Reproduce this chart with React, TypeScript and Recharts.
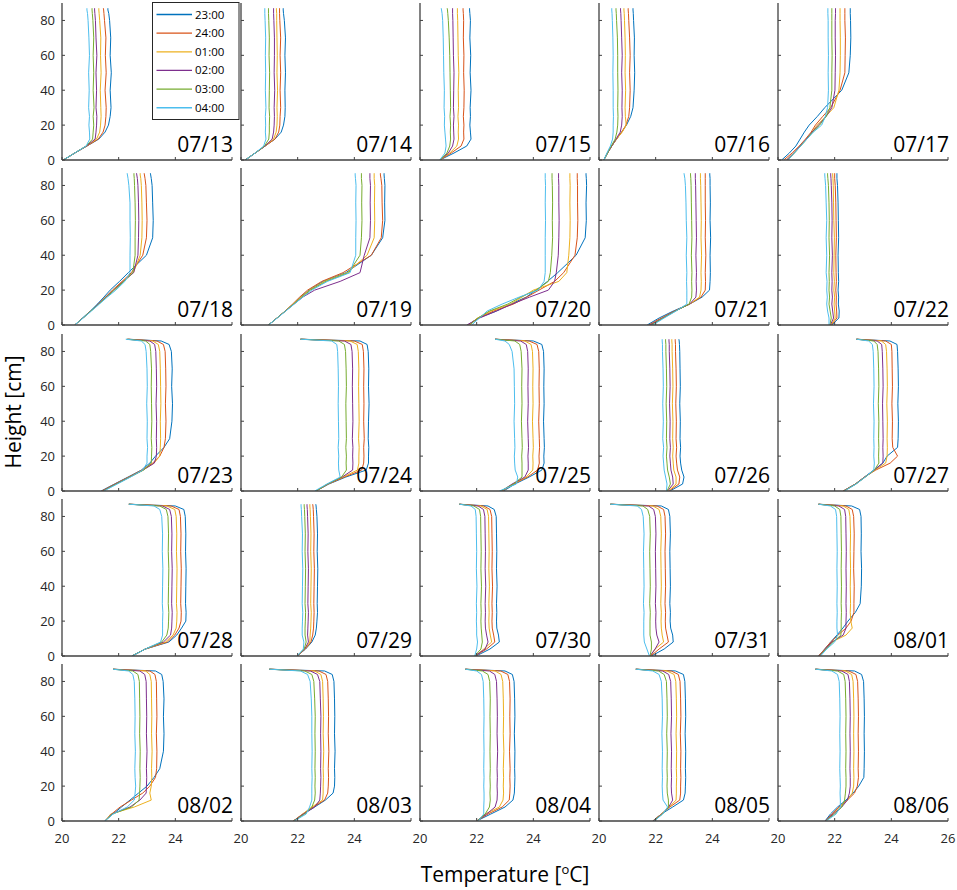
import React from 'react';
import { LineChart, Line, XAxis, YAxis } from 'recharts';

// sampled heights (cm) shared by every profile
const heights = [0, 4, 8, 12, 16, 20, 25, 30, 40, 50, 60, 70, 80, 84, 86, 87];
const times = ['23:00', '24:00', '01:00', '02:00', '03:00', '04:00'];
const colors = ['#0072BD', '#D95319', '#EDB120', '#7E2F8E', '#77AC30', '#4DBEEE'];
const dates = [
  '07/13', '07/14', '07/15', '07/16', '07/17',
  '07/18', '07/19', '07/20', '07/21', '07/22',
  '07/23', '07/24', '07/25', '07/26', '07/27',
  '07/28', '07/29', '07/30', '07/31', '08/01',
  '08/02', '08/03', '08/04', '08/05', '08/06',
];
const tempTicks = [20, 22, 24, 26];
const heightTicks = [0, 20, 40, 60, 80];

// temperature (°C) per height, one row per hour: 23,24,01,02,03,04
const d0713 = [
  [20.05, 20.45, 20.88, 21.3, 21.52, 21.64, 21.7, 21.73, 21.7, 21.74, 21.7, 21.72, 21.68, 21.65, 21.62, 21.62],
  [20.05, 20.45, 20.88, 21.28, 21.45, 21.52, 21.55, 21.56, 21.52, 21.56, 21.53, 21.55, 21.5, 21.48, 21.47, 21.46],
  [20.05, 20.45, 20.86, 21.22, 21.33, 21.36, 21.38, 21.37, 21.35, 21.38, 21.36, 21.37, 21.33, 21.31, 21.3, 21.3],
  [20.05, 20.45, 20.86, 21.17, 21.2, 21.22, 21.23, 21.2, 21.22, 21.2, 21.23, 21.2, 21.18, 21.16, 21.15, 21.15],
  [20.05, 20.45, 20.85, 21.08, 21.1, 21.12, 21.1, 21.13, 21.1, 21.12, 21.1, 21.12, 21.09, 21.07, 21.06, 21.06],
  [20.05, 20.45, 20.85, 20.98, 20.97, 20.95, 20.97, 20.94, 20.96, 20.94, 20.97, 20.95, 20.92, 20.9, 20.88, 20.88],
];
const d0714 = [
  [20.15, 20.5, 20.85, 21.2, 21.42, 21.5, 21.55, 21.56, 21.55, 21.57, 21.55, 21.57, 21.53, 21.5, 21.49, 21.49],
  [20.15, 20.5, 20.85, 21.2, 21.33, 21.37, 21.38, 21.4, 21.38, 21.4, 21.38, 21.4, 21.37, 21.36, 21.36, 21.36],
  [20.15, 20.5, 20.85, 21.15, 21.24, 21.27, 21.28, 21.27, 21.29, 21.27, 21.28, 21.27, 21.26, 21.26, 21.25, 21.25],
  [20.15, 20.5, 20.85, 21.1, 21.15, 21.17, 21.18, 21.17, 21.19, 21.17, 21.18, 21.18, 21.16, 21.15, 21.15, 21.15],
  [20.15, 20.5, 20.83, 20.98, 21.0, 21.0, 21.01, 20.99, 21.0, 21.01, 20.99, 21.0, 20.98, 20.97, 20.97, 20.97],
  [20.15, 20.5, 20.8, 20.88, 20.86, 20.87, 20.86, 20.88, 20.86, 20.87, 20.86, 20.87, 20.85, 20.84, 20.84, 20.84],
];
const d0715 = [
  [20.7, 21.2, 21.65, 21.8, 21.78, 21.76, 21.78, 21.77, 21.8, 21.77, 21.79, 21.76, 21.78, 21.76, 21.75, 21.75],
  [20.7, 21.1, 21.45, 21.55, 21.54, 21.55, 21.53, 21.55, 21.56, 21.54, 21.55, 21.53, 21.54, 21.53, 21.52, 21.52],
  [20.7, 21.05, 21.3, 21.36, 21.35, 21.36, 21.34, 21.36, 21.35, 21.37, 21.35, 21.34, 21.33, 21.32, 21.32, 21.32],
  [20.7, 21.0, 21.15, 21.2, 21.19, 21.18, 21.2, 21.18, 21.19, 21.2, 21.18, 21.17, 21.16, 21.15, 21.15, 21.15],
  [20.7, 20.95, 21.05, 21.08, 21.07, 21.08, 21.06, 21.08, 21.07, 21.06, 21.05, 21.03, 21.0, 20.98, 20.97, 20.96],
  [20.7, 20.88, 20.92, 20.9, 20.88, 20.86, 20.87, 20.85, 20.86, 20.84, 20.83, 20.82, 20.8, 20.78, 20.76, 20.75],
];
const d0716 = [
  [20.17, 20.3, 20.45, 20.62, 20.8, 20.97, 21.12, 21.2, 21.24, 21.26, 21.24, 21.25, 21.22, 21.21, 21.2, 21.2],
  [20.17, 20.3, 20.45, 20.62, 20.8, 20.95, 21.05, 21.08, 21.1, 21.08, 21.1, 21.08, 21.05, 21.04, 21.03, 21.03],
  [20.17, 20.3, 20.45, 20.62, 20.82, 20.96, 20.93, 20.92, 20.94, 20.92, 20.93, 20.92, 20.9, 20.89, 20.88, 20.88],
  [20.17, 20.3, 20.45, 20.6, 20.75, 20.8, 20.82, 20.81, 20.82, 20.8, 20.82, 20.8, 20.78, 20.77, 20.76, 20.76],
  [20.17, 20.3, 20.43, 20.57, 20.63, 20.66, 20.67, 20.66, 20.67, 20.66, 20.66, 20.65, 20.62, 20.61, 20.6, 20.6],
  [20.17, 20.28, 20.4, 20.48, 20.5, 20.5, 20.51, 20.5, 20.5, 20.49, 20.5, 20.49, 20.47, 20.46, 20.45, 20.45],
];
const d0717 = [
  [20.13, 20.4, 20.63, 20.78, 20.93, 21.1, 21.39, 21.65, 22.25, 22.5, 22.55, 22.57, 22.56, 22.55, 22.55, 22.55],
  [20.2, 20.5, 20.75, 20.97, 21.17, 21.32, 21.58, 21.86, 22.19, 22.36, 22.37, 22.38, 22.36, 22.36, 22.36, 22.36],
  [20.3, 20.56, 20.78, 21.0, 21.2, 21.38, 21.69, 21.97, 22.15, 22.19, 22.2, 22.2, 22.19, 22.19, 22.19, 22.19],
  [20.3, 20.56, 20.78, 21.0, 21.2, 21.43, 21.7, 21.9, 22.01, 22.02, 22.03, 22.02, 22.02, 22.03, 22.03, 22.03],
  [20.35, 20.58, 20.8, 21.02, 21.22, 21.47, 21.7, 21.83, 21.9, 21.9, 21.91, 21.9, 21.9, 21.9, 21.9, 21.9],
  [20.35, 20.58, 20.8, 21.02, 21.25, 21.54, 21.67, 21.75, 21.78, 21.77, 21.78, 21.77, 21.77, 21.76, 21.76, 21.76],
];
const d0718 = [
  [20.45, 20.72, 21.0, 21.25, 21.48, 21.7, 22.03, 22.34, 22.98, 23.2, 23.22, 23.2, 23.18, 23.15, 23.13, 23.12],
  [20.45, 20.74, 21.02, 21.28, 21.54, 21.78, 22.12, 22.45, 22.85, 22.98, 23.0, 22.98, 22.96, 22.93, 22.91, 22.9],
  [20.45, 20.74, 21.02, 21.28, 21.54, 21.8, 22.15, 22.52, 22.76, 22.82, 22.83, 22.82, 22.8, 22.78, 22.76, 22.76],
  [20.45, 20.74, 21.02, 21.28, 21.55, 21.82, 22.16, 22.53, 22.68, 22.7, 22.71, 22.7, 22.68, 22.66, 22.64, 22.63],
  [20.45, 20.74, 21.02, 21.3, 21.57, 21.85, 22.18, 22.5, 22.58, 22.58, 22.59, 22.58, 22.56, 22.55, 22.54, 22.54],
  [20.45, 20.75, 21.04, 21.32, 21.6, 21.9, 22.22, 22.4, 22.4, 22.41, 22.4, 22.4, 22.36, 22.33, 22.31, 22.3],
];
const d0719 = [
  [20.97, 21.27, 21.56, 21.84, 22.1, 22.4, 22.9, 23.7, 24.6, 25.0, 25.08, 25.07, 25.08, 25.06, 25.05, 25.05],
  [20.97, 21.27, 21.56, 21.82, 22.07, 22.35, 22.85, 23.6, 24.6, 24.95, 25.0, 24.98, 24.97, 24.94, 24.92, 24.92],
  [20.97, 21.27, 21.56, 21.84, 22.12, 22.42, 22.95, 23.75, 24.45, 24.7, 24.72, 24.71, 24.72, 24.7, 24.7, 24.7],
  [20.97, 21.27, 21.57, 21.87, 22.18, 22.6, 23.5, 24.2, 24.35, 24.55, 24.57, 24.56, 24.57, 24.55, 24.55, 24.55],
  [20.97, 21.27, 21.57, 21.86, 22.15, 22.45, 23.0, 23.8, 24.2, 24.25, 24.27, 24.26, 24.27, 24.25, 24.25, 24.25],
  [20.97, 21.28, 21.58, 21.88, 22.18, 22.5, 23.05, 23.85, 24.05, 24.05, 24.06, 24.05, 24.06, 24.04, 24.03, 24.03],
];
const d0720 = [
  [21.7, 22.05, 22.7, 23.2, 23.75, 24.1, 24.5, 24.86, 25.51, 25.83, 25.87, 25.86, 25.88, 25.87, 25.86, 25.86],
  [21.7, 22.05, 22.6, 23.3, 23.77, 24.2, 24.75, 25.07, 25.47, 25.55, 25.57, 25.56, 25.56, 25.55, 25.55, 25.55],
  [21.72, 22.03, 22.5, 23.2, 23.6, 24.0, 24.9, 25.18, 25.25, 25.29, 25.3, 25.29, 25.3, 25.29, 25.29, 25.29],
  [21.65, 22.1, 22.7, 23.25, 23.87, 24.53, 24.75, 24.81, 24.88, 24.9, 24.91, 24.9, 24.9, 24.89, 24.89, 24.89],
  [21.75, 22.05, 22.45, 23.1, 23.55, 24.1, 24.53, 24.6, 24.65, 24.68, 24.67, 24.68, 24.67, 24.66, 24.66, 24.66],
  [21.82, 22.1, 22.37, 22.9, 23.5, 24.17, 24.38, 24.42, 24.42, 24.42, 24.43, 24.42, 24.43, 24.42, 24.42, 24.42],
];
const d0721 = [
  [21.7, 22.12, 22.62, 23.2, 23.64, 23.9, 23.92, 23.93, 23.92, 23.94, 23.92, 23.93, 23.92, 23.92, 23.91, 23.91],
  [21.75, 22.2, 22.66, 23.2, 23.6, 23.75, 23.76, 23.75, 23.77, 23.75, 23.76, 23.75, 23.75, 23.75, 23.75, 23.75],
  [21.8, 22.25, 22.68, 23.2, 23.55, 23.6, 23.61, 23.6, 23.62, 23.6, 23.61, 23.6, 23.59, 23.58, 23.58, 23.58],
  [21.8, 22.25, 22.68, 23.2, 23.42, 23.44, 23.43, 23.44, 23.42, 23.44, 23.43, 23.42, 23.41, 23.4, 23.4, 23.4],
  [21.85, 22.27, 22.7, 23.18, 23.27, 23.28, 23.27, 23.28, 23.26, 23.28, 23.27, 23.26, 23.25, 23.24, 23.23, 23.23],
  [21.9, 22.3, 22.72, 23.1, 23.1, 23.1, 23.09, 23.1, 23.08, 23.1, 23.08, 23.07, 23.05, 23.03, 23.01, 23.0],
];
const d0722 = [
  [21.9, 22.15, 22.16, 22.13, 22.14, 22.12, 22.14, 22.13, 22.12, 22.14, 22.13, 22.12, 22.1, 22.08, 22.08, 22.08],
  [21.88, 22.08, 22.07, 22.05, 22.06, 22.04, 22.06, 22.05, 22.04, 22.06, 22.05, 22.04, 22.02, 22.0, 22.0, 22.0],
  [21.87, 22.02, 22.0, 21.98, 22.0, 21.97, 21.99, 21.97, 21.98, 21.99, 21.97, 21.96, 21.95, 21.94, 21.93, 21.93],
  [21.85, 21.96, 21.93, 21.9, 21.92, 21.9, 21.91, 21.9, 21.92, 21.9, 21.91, 21.9, 21.88, 21.87, 21.86, 21.86],
  [21.83, 21.88, 21.84, 21.8, 21.82, 21.8, 21.81, 21.8, 21.82, 21.8, 21.81, 21.8, 21.78, 21.76, 21.75, 21.75],
  [21.8, 21.8, 21.75, 21.72, 21.74, 21.72, 21.73, 21.7, 21.72, 21.7, 21.72, 21.7, 21.68, 21.66, 21.65, 21.65],
];
const d0723 = [
  [21.38, 21.85, 22.33, 22.8, 23.1, 23.3, 23.6, 23.8, 23.88, 23.9, 23.87, 23.89, 23.86, 23.78, 23.5, 22.35],
  [21.4, 21.87, 22.35, 22.82, 23.2, 23.45, 23.6, 23.65, 23.67, 23.65, 23.67, 23.66, 23.64, 23.58, 23.35, 22.33],
  [21.42, 21.9, 22.37, 22.85, 23.25, 23.45, 23.47, 23.48, 23.47, 23.49, 23.48, 23.47, 23.45, 23.4, 23.2, 22.3],
  [21.42, 21.9, 22.38, 22.86, 23.26, 23.33, 23.34, 23.33, 23.34, 23.32, 23.34, 23.33, 23.31, 23.27, 23.1, 22.3],
  [21.45, 21.92, 22.4, 22.88, 23.15, 23.16, 23.17, 23.15, 23.17, 23.16, 23.15, 23.16, 23.13, 23.1, 22.95, 22.28],
  [21.48, 21.95, 22.42, 22.85, 23.0, 23.0, 23.02, 23.0, 23.01, 22.99, 23.01, 23.0, 22.97, 22.93, 22.8, 22.25],
];
const d0724 = [
  [22.65, 23.1, 23.7, 24.42, 24.5, 24.5, 24.51, 24.49, 24.5, 24.52, 24.5, 24.51, 24.49, 24.45, 24.2, 22.1],
  [22.65, 23.08, 23.65, 24.26, 24.33, 24.34, 24.33, 24.35, 24.33, 24.34, 24.33, 24.34, 24.32, 24.28, 24.0, 22.1],
  [22.65, 23.07, 23.6, 24.11, 24.16, 24.16, 24.17, 24.15, 24.17, 24.16, 24.15, 24.16, 24.14, 24.1, 23.85, 22.1],
  [22.65, 23.06, 23.57, 23.94, 23.95, 23.94, 23.95, 23.93, 23.95, 23.94, 23.93, 23.94, 23.92, 23.88, 23.65, 22.1],
  [22.65, 23.05, 23.55, 23.72, 23.71, 23.72, 23.7, 23.72, 23.71, 23.7, 23.72, 23.71, 23.69, 23.65, 23.45, 22.1],
  [22.6, 23.03, 23.5, 23.45, 23.44, 23.45, 23.43, 23.45, 23.44, 23.43, 23.44, 23.43, 23.41, 23.38, 23.2, 22.1],
];
const d0725 = [
  [22.95, 23.35, 23.85, 24.3, 24.38, 24.37, 24.39, 24.38, 24.36, 24.38, 24.37, 24.38, 24.36, 24.3, 24.0, 22.65],
  [22.92, 23.3, 23.8, 24.15, 24.21, 24.2, 24.22, 24.21, 24.19, 24.21, 24.2, 24.21, 24.19, 24.13, 23.85, 22.65],
  [22.9, 23.28, 23.75, 23.98, 23.99, 23.98, 24.0, 23.99, 23.97, 23.99, 23.98, 23.99, 23.97, 23.92, 23.7, 22.65],
  [22.88, 23.25, 23.7, 23.82, 23.82, 23.81, 23.83, 23.82, 23.8, 23.82, 23.81, 23.82, 23.8, 23.75, 23.55, 22.65],
  [22.85, 23.3, 23.6, 23.6, 23.6, 23.59, 23.61, 23.6, 23.58, 23.6, 23.59, 23.6, 23.57, 23.52, 23.35, 22.65],
  [22.8, 23.4, 23.45, 23.36, 23.34, 23.33, 23.35, 23.34, 23.32, 23.34, 23.33, 23.32, 23.25, 23.15, 23.0, 22.65],
];
const d0726 = [
  [22.5, 22.95, 23.0, 22.92, 22.88, 22.86, 22.88, 22.86, 22.87, 22.85, 22.87, 22.86, 22.85, 22.84, 22.83, 22.82],
  [22.47, 22.82, 22.85, 22.77, 22.74, 22.72, 22.74, 22.72, 22.73, 22.71, 22.73, 22.72, 22.7, 22.7, 22.69, 22.69],
  [22.45, 22.72, 22.72, 22.64, 22.62, 22.6, 22.62, 22.6, 22.61, 22.59, 22.61, 22.6, 22.58, 22.58, 22.57, 22.57],
  [22.42, 22.62, 22.6, 22.54, 22.52, 22.5, 22.52, 22.5, 22.51, 22.49, 22.51, 22.5, 22.48, 22.48, 22.47, 22.47],
  [22.4, 22.52, 22.48, 22.42, 22.4, 22.38, 22.4, 22.38, 22.39, 22.37, 22.39, 22.38, 22.36, 22.36, 22.35, 22.35],
  [22.38, 22.4, 22.35, 22.3, 22.28, 22.26, 22.28, 22.25, 22.27, 22.25, 22.27, 22.26, 22.24, 22.24, 22.23, 22.23],
];
const d0727 = [
  [22.3, 22.73, 23.05, 23.38, 23.7, 23.85, 24.22, 24.24, 24.25, 24.23, 24.25, 24.24, 24.22, 24.2, 23.95, 22.77],
  [22.3, 22.73, 23.05, 23.45, 23.96, 24.22, 24.05, 24.03, 24.04, 24.02, 24.04, 24.03, 24.02, 24.0, 23.8, 22.77],
  [22.32, 22.74, 23.07, 23.42, 23.8, 23.85, 23.86, 23.85, 23.86, 23.84, 23.86, 23.85, 23.83, 23.8, 23.65, 22.77],
  [22.32, 22.74, 23.07, 23.4, 23.7, 23.71, 23.7, 23.71, 23.7, 23.69, 23.71, 23.7, 23.68, 23.66, 23.5, 22.77],
  [22.33, 22.75, 23.08, 23.4, 23.56, 23.55, 23.56, 23.55, 23.56, 23.54, 23.56, 23.55, 23.53, 23.5, 23.38, 22.77],
  [22.35, 22.76, 23.08, 23.38, 23.4, 23.38, 23.39, 23.38, 23.39, 23.37, 23.39, 23.38, 23.36, 23.33, 23.2, 22.77],
];
const d0728 = [
  [22.47, 22.94, 23.77, 24.05, 24.22, 24.37, 24.38, 24.36, 24.37, 24.38, 24.36, 24.37, 24.35, 24.3, 24.0, 22.36],
  [22.47, 22.94, 23.72, 23.98, 24.13, 24.2, 24.21, 24.19, 24.2, 24.21, 24.19, 24.2, 24.18, 24.13, 23.85, 22.36],
  [22.47, 22.94, 23.65, 23.92, 24.03, 24.05, 24.06, 24.04, 24.05, 24.06, 24.04, 24.05, 24.03, 23.98, 23.7, 22.36],
  [22.47, 22.94, 23.58, 23.83, 23.87, 23.88, 23.89, 23.87, 23.88, 23.89, 23.87, 23.88, 23.86, 23.8, 23.55, 22.36],
  [22.47, 22.94, 23.52, 23.7, 23.75, 23.76, 23.77, 23.75, 23.76, 23.77, 23.75, 23.76, 23.74, 23.68, 23.45, 22.36],
  [22.47, 22.94, 23.48, 23.55, 23.55, 23.55, 23.56, 23.54, 23.55, 23.56, 23.54, 23.55, 23.52, 23.45, 23.25, 22.36],
];
const d0729 = [
  [21.98, 22.28, 22.5, 22.62, 22.66, 22.68, 22.7, 22.69, 22.7, 22.71, 22.69, 22.7, 22.68, 22.66, 22.65, 22.64],
  [21.98, 22.27, 22.47, 22.53, 22.56, 22.57, 22.58, 22.57, 22.58, 22.59, 22.57, 22.58, 22.56, 22.55, 22.54, 22.53],
  [21.98, 22.26, 22.43, 22.44, 22.46, 22.47, 22.48, 22.46, 22.47, 22.48, 22.46, 22.47, 22.45, 22.44, 22.43, 22.43],
  [21.98, 22.25, 22.38, 22.35, 22.36, 22.37, 22.38, 22.36, 22.37, 22.38, 22.36, 22.37, 22.35, 22.34, 22.33, 22.33],
  [21.98, 22.23, 22.3, 22.26, 22.26, 22.27, 22.28, 22.26, 22.27, 22.28, 22.26, 22.27, 22.25, 22.24, 22.23, 22.23],
  [21.98, 22.2, 22.22, 22.16, 22.16, 22.17, 22.18, 22.16, 22.17, 22.18, 22.16, 22.17, 22.14, 22.13, 22.12, 22.12],
];
const d0730 = [
  [21.98, 22.47, 22.8, 22.77, 22.71, 22.7, 22.71, 22.7, 22.72, 22.7, 22.71, 22.7, 22.69, 22.62, 22.4, 21.39],
  [21.95, 22.35, 22.64, 22.6, 22.55, 22.54, 22.55, 22.54, 22.56, 22.54, 22.55, 22.54, 22.53, 22.47, 22.25, 21.39],
  [21.95, 22.25, 22.53, 22.48, 22.44, 22.43, 22.44, 22.43, 22.45, 22.43, 22.44, 22.43, 22.42, 22.37, 22.15, 21.39],
  [21.93, 22.3, 22.4, 22.35, 22.31, 22.3, 22.31, 22.3, 22.32, 22.3, 22.31, 22.3, 22.29, 22.24, 22.05, 21.39],
  [21.93, 22.15, 22.2, 22.18, 22.16, 22.15, 22.16, 22.15, 22.17, 22.15, 22.16, 22.15, 22.14, 22.1, 21.9, 21.39],
  [21.93, 22.0, 22.03, 22.0, 22.0, 21.99, 22.0, 21.99, 22.01, 21.99, 22.0, 21.99, 21.98, 21.95, 21.8, 21.39],
];
const d0731 = [
  [21.85, 22.3, 22.62, 22.6, 22.53, 22.51, 22.52, 22.5, 22.52, 22.51, 22.5, 22.52, 22.5, 22.45, 22.2, 20.4],
  [21.83, 22.12, 22.45, 22.4, 22.35, 22.34, 22.35, 22.33, 22.35, 22.34, 22.33, 22.35, 22.33, 22.28, 22.05, 20.4],
  [21.82, 21.98, 22.28, 22.23, 22.2, 22.19, 22.2, 22.18, 22.2, 22.19, 22.18, 22.2, 22.18, 22.12, 21.9, 20.4],
  [21.8, 21.98, 22.12, 22.04, 22.01, 22.0, 22.01, 21.99, 22.01, 22.0, 21.99, 22.01, 21.99, 21.93, 21.75, 20.4],
  [21.8, 21.85, 21.85, 21.8, 21.8, 21.8, 21.81, 21.79, 21.81, 21.8, 21.79, 21.81, 21.79, 21.72, 21.55, 20.4],
  [21.78, 21.69, 21.6, 21.58, 21.58, 21.58, 21.59, 21.57, 21.59, 21.58, 21.57, 21.59, 21.56, 21.5, 21.35, 20.4],
];
const d0801 = [
  [21.43, 21.65, 21.86, 22.08, 22.29, 22.47, 22.73, 22.9, 22.94, 22.95, 22.93, 22.94, 22.93, 22.88, 22.6, 21.43],
  [21.43, 21.65, 21.86, 22.12, 22.4, 22.58, 22.68, 22.68, 22.69, 22.67, 22.68, 22.69, 22.67, 22.62, 22.4, 21.43],
  [21.45, 21.67, 21.9, 22.4, 22.62, 22.57, 22.55, 22.56, 22.55, 22.56, 22.55, 22.56, 22.54, 22.5, 22.3, 21.43],
  [21.45, 21.67, 21.9, 22.3, 22.4, 22.4, 22.41, 22.4, 22.41, 22.4, 22.41, 22.4, 22.39, 22.35, 22.15, 21.43],
  [21.47, 21.7, 21.95, 22.22, 22.23, 22.23, 22.24, 22.23, 22.24, 22.23, 22.24, 22.23, 22.22, 22.18, 22.0, 21.43],
  [21.5, 21.72, 22.0, 22.1, 22.08, 22.08, 22.09, 22.08, 22.09, 22.08, 22.09, 22.08, 22.07, 22.03, 21.85, 21.43],
];
const d0802 = [
  [21.5, 21.8, 22.1, 22.4, 22.7, 23.0, 23.25, 23.45, 23.58, 23.6, 23.58, 23.6, 23.57, 23.52, 23.3, 21.8],
  [21.52, 21.75, 22.05, 22.45, 22.85, 23.1, 23.3, 23.34, 23.35, 23.33, 23.35, 23.34, 23.33, 23.28, 23.1, 21.8],
  [21.52, 21.72, 22.55, 23.15, 23.1, 23.15, 23.17, 23.16, 23.18, 23.16, 23.17, 23.16, 23.15, 23.1, 22.95, 21.8],
  [21.52, 21.75, 22.4, 22.75, 22.97, 22.98, 22.99, 22.98, 23.0, 22.98, 22.99, 22.98, 22.97, 22.92, 22.75, 21.8],
  [21.52, 21.78, 22.45, 22.72, 22.74, 22.75, 22.76, 22.75, 22.76, 22.74, 22.75, 22.74, 22.73, 22.68, 22.5, 21.8],
  [21.52, 21.8, 22.3, 22.55, 22.58, 22.6, 22.58, 22.57, 22.59, 22.57, 22.58, 22.57, 22.55, 22.5, 22.35, 21.8],
];
const d0803 = [
  [21.85, 22.2, 22.6, 22.98, 23.25, 23.3, 23.31, 23.3, 23.32, 23.3, 23.31, 23.3, 23.28, 23.22, 22.95, 21.0],
  [21.85, 22.18, 22.55, 22.95, 23.06, 23.08, 23.09, 23.08, 23.1, 23.08, 23.09, 23.08, 23.06, 23.0, 22.75, 21.0],
  [21.85, 22.17, 22.5, 22.88, 22.9, 22.9, 22.91, 22.9, 22.92, 22.9, 22.91, 22.9, 22.88, 22.82, 22.6, 21.0],
  [21.85, 22.2, 22.6, 22.78, 22.8, 22.81, 22.82, 22.81, 22.82, 22.81, 22.82, 22.8, 22.78, 22.7, 22.45, 21.0],
  [21.86, 22.25, 22.5, 22.6, 22.62, 22.61, 22.62, 22.61, 22.62, 22.61, 22.62, 22.6, 22.57, 22.5, 22.25, 21.0],
  [21.88, 22.3, 22.42, 22.5, 22.5, 22.5, 22.51, 22.5, 22.51, 22.5, 22.5, 22.48, 22.44, 22.35, 22.1, 21.0],
];
const d0804 = [
  [22.0, 22.5, 23.0, 23.28, 23.33, 23.34, 23.35, 23.34, 23.35, 23.33, 23.35, 23.34, 23.32, 23.26, 23.0, 21.6],
  [22.0, 22.4, 22.9, 23.15, 23.17, 23.18, 23.17, 23.18, 23.16, 23.18, 23.17, 23.18, 23.16, 23.1, 22.85, 21.6],
  [22.0, 22.3, 22.8, 22.93, 22.95, 22.94, 22.95, 22.94, 22.96, 22.94, 22.95, 22.94, 22.92, 22.86, 22.65, 21.6],
  [22.0, 22.35, 22.65, 22.72, 22.73, 22.72, 22.73, 22.72, 22.74, 22.72, 22.73, 22.72, 22.7, 22.64, 22.45, 21.6],
  [22.02, 22.3, 22.45, 22.48, 22.47, 22.48, 22.47, 22.48, 22.47, 22.48, 22.47, 22.48, 22.46, 22.4, 22.2, 21.6],
  [22.05, 22.25, 22.25, 22.26, 22.26, 22.25, 22.26, 22.25, 22.26, 22.25, 22.26, 22.25, 22.23, 22.17, 22.0, 21.6],
];
const d0805 = [
  [21.9, 22.2, 22.6, 22.98, 23.04, 23.05, 23.06, 23.05, 23.06, 23.04, 23.06, 23.05, 23.03, 22.98, 22.7, 21.3],
  [21.9, 22.2, 22.5, 22.85, 22.88, 22.88, 22.89, 22.88, 22.89, 22.87, 22.89, 22.88, 22.86, 22.8, 22.55, 21.3],
  [21.9, 22.2, 22.48, 22.72, 22.73, 22.73, 22.74, 22.73, 22.74, 22.72, 22.74, 22.73, 22.71, 22.65, 22.4, 21.3],
  [21.9, 22.22, 22.46, 22.6, 22.56, 22.55, 22.56, 22.55, 22.56, 22.54, 22.56, 22.55, 22.53, 22.46, 22.25, 21.3],
  [21.92, 22.24, 22.45, 22.45, 22.41, 22.4, 22.41, 22.4, 22.41, 22.39, 22.41, 22.4, 22.38, 22.3, 22.1, 21.3],
  [21.95, 22.25, 22.42, 22.26, 22.24, 22.23, 22.24, 22.23, 22.24, 22.22, 22.24, 22.23, 22.2, 22.12, 21.9, 21.3],
];
const d0806 = [
  [21.66, 21.85, 22.1, 22.4, 22.65, 22.85, 23.03, 23.04, 23.05, 23.04, 23.05, 23.04, 23.02, 22.95, 22.7, 21.32],
  [21.66, 21.9, 22.15, 22.45, 22.7, 22.8, 22.84, 22.83, 22.84, 22.83, 22.84, 22.83, 22.81, 22.75, 22.5, 21.32],
  [21.66, 21.95, 22.2, 22.45, 22.62, 22.67, 22.68, 22.67, 22.68, 22.67, 22.68, 22.67, 22.65, 22.6, 22.38, 21.32],
  [21.66, 21.95, 22.25, 22.45, 22.52, 22.55, 22.55, 22.54, 22.55, 22.54, 22.55, 22.54, 22.52, 22.47, 22.25, 21.32],
  [21.68, 22.0, 22.25, 22.35, 22.38, 22.4, 22.4, 22.39, 22.4, 22.39, 22.4, 22.39, 22.37, 22.32, 22.1, 21.32],
  [21.7, 22.05, 22.2, 22.2, 22.19, 22.2, 22.19, 22.18, 22.19, 22.18, 22.19, 22.18, 22.16, 22.1, 21.9, 21.32],
];

const panels = [
  d0713, d0714, d0715, d0716, d0717,
  d0718, d0719, d0720, d0721, d0722,
  d0723, d0724, d0725, d0726, d0727,
  d0728, d0729, d0730, d0731, d0801,
  d0802, d0803, d0804, d0805, d0806,
];

const FONT = '"Open Sans", "Noto Sans", sans-serif';
const AXIS = '#404040';
const PLOT_W = 170;
const PLOT_H = 157;
const AXIS_W = 45;
const TOP_PAD = 5;
const RIGHT_PAD = 10;
const AXIS_H = 30;

const colLeft = (c: number) => 62 + c * 179;
const rowBottom = (r: number) => 160 + r * 165.25;

const toRows = (lines: number[][]) =>
  heights.map((h, k) => {
    const row: Record<string, number> = { h };
    lines.forEach((ln, i) => {
      row['c' + i] = ln[k];
    });
    return row;
  });

const makeYTick = (showLabel: boolean) => (props: any) => {
  const { x, y, payload } = props;
  return (
    <g>
      <line x1={x} y1={y} x2={x + 3} y2={y} stroke={AXIS} strokeWidth={1} />
      {showLabel && (
        <text x={x - 7} y={y} dy="0.35em" textAnchor="end" fontSize={13} fill="#262626" fontFamily={FONT}>
          {payload.value}
        </text>
      )}
    </g>
  );
};

const makeXTick = (showLabel: boolean, last: boolean) => (props: any) => {
  const { x, y, payload } = props;
  const label = showLabel && (payload.value !== 26 || last);
  return (
    <g>
      <line x1={x} y1={y} x2={x} y2={y - 3} stroke={AXIS} strokeWidth={1} />
      {label && (
        <text x={x} y={y + 22} textAnchor="middle" fontSize={13} fill="#262626" fontFamily={FONT}>
          {payload.value}
        </text>
      )}
    </g>
  );
};

const Panel: React.FC<{ index: number }> = ({ index }) => {
  const r = Math.floor(index / 5);
  const c = index % 5;
  const data = toRows(panels[index]);
  return (
    <div
      style={{
        position: 'absolute',
        left: colLeft(c) - AXIS_W,
        top: rowBottom(r) - PLOT_H - TOP_PAD,
      }}
    >
      <LineChart
        layout="vertical"
        width={AXIS_W + PLOT_W + RIGHT_PAD}
        height={TOP_PAD + PLOT_H + AXIS_H}
        data={data}
        margin={{ top: TOP_PAD, right: RIGHT_PAD, bottom: 0, left: 0 }}
      >
        <XAxis
          type="number"
          domain={[20, 26]}
          ticks={tempTicks}
          allowDataOverflow
          height={AXIS_H}
          tickSize={0}
          tickMargin={0}
          tickLine={false}
          axisLine={{ stroke: AXIS, strokeWidth: 1.3 }}
          tick={makeXTick(r === 4, c === 4)}
          interval={0}
        />
        <YAxis
          type="number"
          dataKey="h"
          domain={[0, 90]}
          ticks={heightTicks}
          reversed
          allowDataOverflow
          width={AXIS_W}
          tickSize={0}
          tickMargin={0}
          tickLine={false}
          axisLine={{ stroke: AXIS, strokeWidth: 1.3 }}
          tick={makeYTick(c === 0)}
          interval={0}
        />
        {times.map((t, i) => (
          <Line
            key={t}
            name={t}
            type="linear"
            dataKey={'c' + i}
            stroke={colors[i]}
            strokeWidth={1}
            dot={false}
            activeDot={false}
            isAnimationActive={false}
          />
        ))}
      </LineChart>
    </div>
  );
};

const App: React.FC = () => {
  return (
    <div
      style={{
        position: 'absolute',
        left: 0,
        top: 0,
        width: 957,
        height: 890,
        background: '#ffffff',
        fontFamily: FONT,
        overflow: 'hidden',
      }}
    >
      {dates.map((d, i) => (
        <Panel key={d} index={i} />
      ))}
      <svg
        width={957}
        height={890}
        style={{ position: 'absolute', left: 0, top: 0, pointerEvents: 'none' }}
      >
        {dates.map((d, i) => (
          <text
            key={d}
            x={colLeft(i % 5) + 171}
            y={rowBottom(Math.floor(i / 5)) - 8}
            textAnchor="end"
            fontSize={21}
            fill="#000"
            fontFamily={FONT}
          >
            {d}
          </text>
        ))}
        <g>
          <rect x={152.5} y={2.5} width={86.5} height={117} fill="#fff" stroke="#262626" strokeWidth={1} />
          {times.map((t, i) => (
            <g key={t}>
              <line x1={156.5} x2={192} y1={14.5 + i * 18.65} y2={14.5 + i * 18.65} stroke={colors[i]} strokeWidth={1.3} />
              <text x={195} y={14.5 + i * 18.65} dy="0.35em" fontSize={11.5} fill="#000" fontFamily={FONT}>
                {t}
              </text>
            </g>
          ))}
        </g>
        <text
          x={21}
          y={412}
          transform="rotate(-90 21 412)"
          textAnchor="middle"
          fontSize={21}
          fill="#000"
          fontFamily={FONT}
        >
          Height [cm]
        </text>
        <text x={505} y={882} textAnchor="middle" fontSize={21} fill="#000" fontFamily={FONT}>
          Temperature [<tspan fontSize={13} dy={-8}>o</tspan>
          <tspan dy={8}>C]</tspan>
        </text>
      </svg>
    </div>
  );
};

export default App;
